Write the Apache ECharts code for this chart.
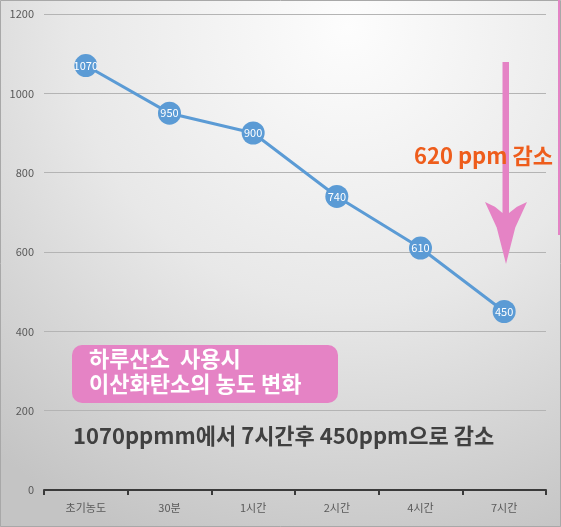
<!DOCTYPE html>
<html>
<head>
<meta charset="utf-8">
<script src="https://cdn.jsdelivr.net/npm/echarts@6/dist/echarts.min.js"></script>
<style>
  html, body { margin: 0; padding: 0; }
  #chart { width: 561px; height: 527px; }
</style>
</head>
<body>
<div id="chart"></div>
<script>
// data
const categories = ['초기농도', '30분', '1시간', '2시간', '4시간', '7시간'];
const co2Values = [1070, 950, 900, 740, 610, 450];
const yTicks = { min: 0, max: 1200, interval: 200 };

const font = '"Noto Sans CJK KR", "Noto Sans", sans-serif';
const pink = '#e583c5';

const chart = echarts.init(document.getElementById('chart'), null, { renderer: 'canvas' });

// arrow outline (annotation, not data)
const arrowPoints = [
    [502.5, 62], [509, 62], [509, 213],
    [517, 206.8], [527, 202],
    [515.3, 227.5], [506, 264],
    [496.7, 227.5], [485, 202],
    [494.9, 206.8], [502.5, 213]
];

const option = {
    animation: false,
    backgroundColor: {
        type: 'radial', x: 0.62, y: 0.05, r: 1.05,
        colorStops: [
            { offset: 0, color: '#fdfdfd' },
            { offset: 0.5, color: '#e8e8e8' },
            { offset: 1, color: '#c4c4c4' }
        ]
    },
    grid: { left: 44, right: 15, top: 14, bottom: 37 },
    xAxis: {
        type: 'category',
        data: categories,
        boundaryGap: true,
        axisLine: { lineStyle: { color: '#3a3a3a', width: 2 } },
        axisTick: { show: true, length: 5, lineStyle: { color: '#3a3a3a', width: 2 } },
        axisLabel: { color: '#595959', fontSize: 11, fontFamily: font, margin: 12 }
    },
    yAxis: {
        type: 'value',
        min: yTicks.min,
        max: yTicks.max,
        interval: yTicks.interval,
        axisLine: { show: false },
        axisTick: { show: false },
        axisLabel: { color: '#595959', fontSize: 11, fontFamily: font, margin: 10,
                     formatter: v => String(v) },
        splitLine: { lineStyle: { color: '#b4b4b4', width: 1 } }
    },
    series: [{
        type: 'line',
        data: co2Values,
        symbol: 'circle',
        symbolSize: 23,
        lineStyle: { color: '#5b9bd5', width: 3 },
        itemStyle: { color: '#5b9bd5', borderWidth: 0 },
        label: {
            show: true,
            position: 'inside',
            color: '#ffffff',
            fontSize: 11,
            fontFamily: font,
            formatter: p => String(p.value)
        },
        z: 5
    }],
    graphic: [
        // frame
        { type: 'rect', shape: { x: 0.5, y: 0.5, width: 560, height: 526 },
          style: { fill: 'none', stroke: '#a8a8a8', lineWidth: 1 }, z: 100 },
        { type: 'line', shape: { x1: 559, y1: 0, x2: 559, y2: 235 },
          style: { stroke: pink, lineWidth: 2 }, z: 101 },
        // pink arrow
        { type: 'polygon', shape: { points: arrowPoints, smooth: 0 },
          style: { fill: pink }, z: 50 },
        { type: 'text', left: 414, top: 145,
          style: { text: '620 ppm 감소', fill: '#ee5d1c', font: 'bold 22px ' + font }, z: 60 },
        // pink title box
        { type: 'rect', shape: { x: 72, y: 345, width: 266, height: 58, r: 10 },
          style: { fill: pink }, z: 50 },
        { type: 'text', left: 89, top: 346,
          style: { text: '하루산소  사용시\n이산화탄소의 농도 변화', fill: '#ffffff',
                   font: 'bold 22px ' + font, lineHeight: 25 }, z: 60 },
        { type: 'text', left: 73, top: 425,
          style: { text: '1070ppmm에서 7시간후 450ppm으로 감소', fill: '#404040',
                   font: 'bold 22px ' + font }, z: 60 }
    ]
};

chart.setOption(option);
</script>
</body>
</html>
